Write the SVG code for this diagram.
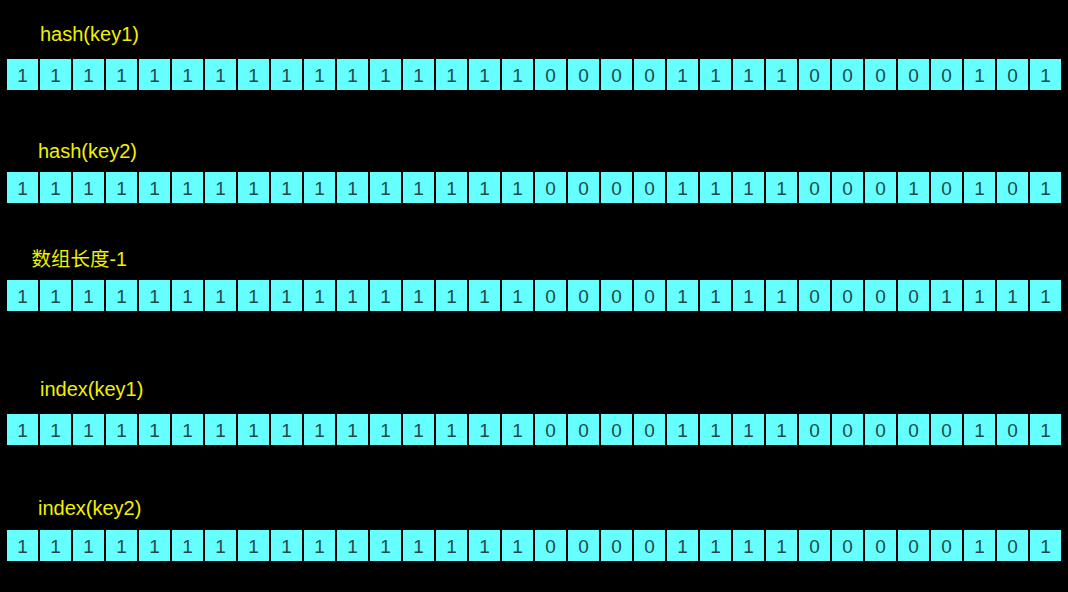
<svg xmlns="http://www.w3.org/2000/svg" width="1068" height="592" viewBox="0 0 1068 592">
<style>
.bg{fill:#000}
.cell{fill:#66ffff}
.d{font-family:"Liberation Sans",Arial,sans-serif;font-size:19px;fill:#1f4a4a;text-anchor:middle}
.lbl{font-family:"Liberation Sans",Arial,"Noto Sans CJK SC",sans-serif;font-size:20px;fill:#f0f000}
.cjk{font-size:19.5px}
</style>
<rect class="bg" x="0" y="0" width="1068" height="592"/>
<g id="labels">
<text class="lbl" x="40" y="41">hash(key1)</text>
<text class="lbl" x="38" y="157.5">hash(key2)</text>
<text class="lbl cjk" x="31.5" y="266">数组长度-1</text>
<text class="lbl" x="40" y="396">index(key1)</text>
<text class="lbl" x="38" y="515">index(key2)</text>
</g>
<g id="connectors"></g>
<g id="row-hash-key1" transform="translate(0,59)">
<rect class="cell" x="7" y="0" width="31" height="31"/><text class="d" x="22.5" y="22.5">1</text>
<rect class="cell" x="40" y="0" width="31" height="31"/><text class="d" x="55.5" y="22.5">1</text>
<rect class="cell" x="73" y="0" width="31" height="31"/><text class="d" x="88.5" y="22.5">1</text>
<rect class="cell" x="106" y="0" width="31" height="31"/><text class="d" x="121.5" y="22.5">1</text>
<rect class="cell" x="139" y="0" width="31" height="31"/><text class="d" x="154.5" y="22.5">1</text>
<rect class="cell" x="172" y="0" width="31" height="31"/><text class="d" x="187.5" y="22.5">1</text>
<rect class="cell" x="205" y="0" width="31" height="31"/><text class="d" x="220.5" y="22.5">1</text>
<rect class="cell" x="238" y="0" width="31" height="31"/><text class="d" x="253.5" y="22.5">1</text>
<rect class="cell" x="271" y="0" width="31" height="31"/><text class="d" x="286.5" y="22.5">1</text>
<rect class="cell" x="304" y="0" width="31" height="31"/><text class="d" x="319.5" y="22.5">1</text>
<rect class="cell" x="337" y="0" width="31" height="31"/><text class="d" x="352.5" y="22.5">1</text>
<rect class="cell" x="370" y="0" width="31" height="31"/><text class="d" x="385.5" y="22.5">1</text>
<rect class="cell" x="403" y="0" width="31" height="31"/><text class="d" x="418.5" y="22.5">1</text>
<rect class="cell" x="436" y="0" width="31" height="31"/><text class="d" x="451.5" y="22.5">1</text>
<rect class="cell" x="469" y="0" width="31" height="31"/><text class="d" x="484.5" y="22.5">1</text>
<rect class="cell" x="502" y="0" width="31" height="31"/><text class="d" x="517.5" y="22.5">1</text>
<rect class="cell" x="535" y="0" width="31" height="31"/><text class="d" x="550.5" y="22.5">0</text>
<rect class="cell" x="568" y="0" width="31" height="31"/><text class="d" x="583.5" y="22.5">0</text>
<rect class="cell" x="601" y="0" width="31" height="31"/><text class="d" x="616.5" y="22.5">0</text>
<rect class="cell" x="634" y="0" width="31" height="31"/><text class="d" x="649.5" y="22.5">0</text>
<rect class="cell" x="667" y="0" width="31" height="31"/><text class="d" x="682.5" y="22.5">1</text>
<rect class="cell" x="700" y="0" width="31" height="31"/><text class="d" x="715.5" y="22.5">1</text>
<rect class="cell" x="733" y="0" width="31" height="31"/><text class="d" x="748.5" y="22.5">1</text>
<rect class="cell" x="766" y="0" width="31" height="31"/><text class="d" x="781.5" y="22.5">1</text>
<rect class="cell" x="799" y="0" width="31" height="31"/><text class="d" x="814.5" y="22.5">0</text>
<rect class="cell" x="832" y="0" width="31" height="31"/><text class="d" x="847.5" y="22.5">0</text>
<rect class="cell" x="865" y="0" width="31" height="31"/><text class="d" x="880.5" y="22.5">0</text>
<rect class="cell" x="898" y="0" width="31" height="31"/><text class="d" x="913.5" y="22.5">0</text>
<rect class="cell" x="931" y="0" width="31" height="31"/><text class="d" x="946.5" y="22.5">0</text>
<rect class="cell" x="964" y="0" width="31" height="31"/><text class="d" x="979.5" y="22.5">1</text>
<rect class="cell" x="997" y="0" width="31" height="31"/><text class="d" x="1012.5" y="22.5">0</text>
<rect class="cell" x="1030" y="0" width="31" height="31"/><text class="d" x="1045.5" y="22.5">1</text>
</g>
<g id="row-hash-key2" transform="translate(0,172)">
<rect class="cell" x="7" y="0" width="31" height="31"/><text class="d" x="22.5" y="22.5">1</text>
<rect class="cell" x="40" y="0" width="31" height="31"/><text class="d" x="55.5" y="22.5">1</text>
<rect class="cell" x="73" y="0" width="31" height="31"/><text class="d" x="88.5" y="22.5">1</text>
<rect class="cell" x="106" y="0" width="31" height="31"/><text class="d" x="121.5" y="22.5">1</text>
<rect class="cell" x="139" y="0" width="31" height="31"/><text class="d" x="154.5" y="22.5">1</text>
<rect class="cell" x="172" y="0" width="31" height="31"/><text class="d" x="187.5" y="22.5">1</text>
<rect class="cell" x="205" y="0" width="31" height="31"/><text class="d" x="220.5" y="22.5">1</text>
<rect class="cell" x="238" y="0" width="31" height="31"/><text class="d" x="253.5" y="22.5">1</text>
<rect class="cell" x="271" y="0" width="31" height="31"/><text class="d" x="286.5" y="22.5">1</text>
<rect class="cell" x="304" y="0" width="31" height="31"/><text class="d" x="319.5" y="22.5">1</text>
<rect class="cell" x="337" y="0" width="31" height="31"/><text class="d" x="352.5" y="22.5">1</text>
<rect class="cell" x="370" y="0" width="31" height="31"/><text class="d" x="385.5" y="22.5">1</text>
<rect class="cell" x="403" y="0" width="31" height="31"/><text class="d" x="418.5" y="22.5">1</text>
<rect class="cell" x="436" y="0" width="31" height="31"/><text class="d" x="451.5" y="22.5">1</text>
<rect class="cell" x="469" y="0" width="31" height="31"/><text class="d" x="484.5" y="22.5">1</text>
<rect class="cell" x="502" y="0" width="31" height="31"/><text class="d" x="517.5" y="22.5">1</text>
<rect class="cell" x="535" y="0" width="31" height="31"/><text class="d" x="550.5" y="22.5">0</text>
<rect class="cell" x="568" y="0" width="31" height="31"/><text class="d" x="583.5" y="22.5">0</text>
<rect class="cell" x="601" y="0" width="31" height="31"/><text class="d" x="616.5" y="22.5">0</text>
<rect class="cell" x="634" y="0" width="31" height="31"/><text class="d" x="649.5" y="22.5">0</text>
<rect class="cell" x="667" y="0" width="31" height="31"/><text class="d" x="682.5" y="22.5">1</text>
<rect class="cell" x="700" y="0" width="31" height="31"/><text class="d" x="715.5" y="22.5">1</text>
<rect class="cell" x="733" y="0" width="31" height="31"/><text class="d" x="748.5" y="22.5">1</text>
<rect class="cell" x="766" y="0" width="31" height="31"/><text class="d" x="781.5" y="22.5">1</text>
<rect class="cell" x="799" y="0" width="31" height="31"/><text class="d" x="814.5" y="22.5">0</text>
<rect class="cell" x="832" y="0" width="31" height="31"/><text class="d" x="847.5" y="22.5">0</text>
<rect class="cell" x="865" y="0" width="31" height="31"/><text class="d" x="880.5" y="22.5">0</text>
<rect class="cell" x="898" y="0" width="31" height="31"/><text class="d" x="913.5" y="22.5">1</text>
<rect class="cell" x="931" y="0" width="31" height="31"/><text class="d" x="946.5" y="22.5">0</text>
<rect class="cell" x="964" y="0" width="31" height="31"/><text class="d" x="979.5" y="22.5">1</text>
<rect class="cell" x="997" y="0" width="31" height="31"/><text class="d" x="1012.5" y="22.5">0</text>
<rect class="cell" x="1030" y="0" width="31" height="31"/><text class="d" x="1045.5" y="22.5">1</text>
</g>
<g id="row-length-minus-1" transform="translate(0,280)">
<rect class="cell" x="7" y="0" width="31" height="31"/><text class="d" x="22.5" y="22.5">1</text>
<rect class="cell" x="40" y="0" width="31" height="31"/><text class="d" x="55.5" y="22.5">1</text>
<rect class="cell" x="73" y="0" width="31" height="31"/><text class="d" x="88.5" y="22.5">1</text>
<rect class="cell" x="106" y="0" width="31" height="31"/><text class="d" x="121.5" y="22.5">1</text>
<rect class="cell" x="139" y="0" width="31" height="31"/><text class="d" x="154.5" y="22.5">1</text>
<rect class="cell" x="172" y="0" width="31" height="31"/><text class="d" x="187.5" y="22.5">1</text>
<rect class="cell" x="205" y="0" width="31" height="31"/><text class="d" x="220.5" y="22.5">1</text>
<rect class="cell" x="238" y="0" width="31" height="31"/><text class="d" x="253.5" y="22.5">1</text>
<rect class="cell" x="271" y="0" width="31" height="31"/><text class="d" x="286.5" y="22.5">1</text>
<rect class="cell" x="304" y="0" width="31" height="31"/><text class="d" x="319.5" y="22.5">1</text>
<rect class="cell" x="337" y="0" width="31" height="31"/><text class="d" x="352.5" y="22.5">1</text>
<rect class="cell" x="370" y="0" width="31" height="31"/><text class="d" x="385.5" y="22.5">1</text>
<rect class="cell" x="403" y="0" width="31" height="31"/><text class="d" x="418.5" y="22.5">1</text>
<rect class="cell" x="436" y="0" width="31" height="31"/><text class="d" x="451.5" y="22.5">1</text>
<rect class="cell" x="469" y="0" width="31" height="31"/><text class="d" x="484.5" y="22.5">1</text>
<rect class="cell" x="502" y="0" width="31" height="31"/><text class="d" x="517.5" y="22.5">1</text>
<rect class="cell" x="535" y="0" width="31" height="31"/><text class="d" x="550.5" y="22.5">0</text>
<rect class="cell" x="568" y="0" width="31" height="31"/><text class="d" x="583.5" y="22.5">0</text>
<rect class="cell" x="601" y="0" width="31" height="31"/><text class="d" x="616.5" y="22.5">0</text>
<rect class="cell" x="634" y="0" width="31" height="31"/><text class="d" x="649.5" y="22.5">0</text>
<rect class="cell" x="667" y="0" width="31" height="31"/><text class="d" x="682.5" y="22.5">1</text>
<rect class="cell" x="700" y="0" width="31" height="31"/><text class="d" x="715.5" y="22.5">1</text>
<rect class="cell" x="733" y="0" width="31" height="31"/><text class="d" x="748.5" y="22.5">1</text>
<rect class="cell" x="766" y="0" width="31" height="31"/><text class="d" x="781.5" y="22.5">1</text>
<rect class="cell" x="799" y="0" width="31" height="31"/><text class="d" x="814.5" y="22.5">0</text>
<rect class="cell" x="832" y="0" width="31" height="31"/><text class="d" x="847.5" y="22.5">0</text>
<rect class="cell" x="865" y="0" width="31" height="31"/><text class="d" x="880.5" y="22.5">0</text>
<rect class="cell" x="898" y="0" width="31" height="31"/><text class="d" x="913.5" y="22.5">0</text>
<rect class="cell" x="931" y="0" width="31" height="31"/><text class="d" x="946.5" y="22.5">1</text>
<rect class="cell" x="964" y="0" width="31" height="31"/><text class="d" x="979.5" y="22.5">1</text>
<rect class="cell" x="997" y="0" width="31" height="31"/><text class="d" x="1012.5" y="22.5">1</text>
<rect class="cell" x="1030" y="0" width="31" height="31"/><text class="d" x="1045.5" y="22.5">1</text>
</g>
<g id="row-index-key1" transform="translate(0,414)">
<rect class="cell" x="7" y="0" width="31" height="31"/><text class="d" x="22.5" y="22.5">1</text>
<rect class="cell" x="40" y="0" width="31" height="31"/><text class="d" x="55.5" y="22.5">1</text>
<rect class="cell" x="73" y="0" width="31" height="31"/><text class="d" x="88.5" y="22.5">1</text>
<rect class="cell" x="106" y="0" width="31" height="31"/><text class="d" x="121.5" y="22.5">1</text>
<rect class="cell" x="139" y="0" width="31" height="31"/><text class="d" x="154.5" y="22.5">1</text>
<rect class="cell" x="172" y="0" width="31" height="31"/><text class="d" x="187.5" y="22.5">1</text>
<rect class="cell" x="205" y="0" width="31" height="31"/><text class="d" x="220.5" y="22.5">1</text>
<rect class="cell" x="238" y="0" width="31" height="31"/><text class="d" x="253.5" y="22.5">1</text>
<rect class="cell" x="271" y="0" width="31" height="31"/><text class="d" x="286.5" y="22.5">1</text>
<rect class="cell" x="304" y="0" width="31" height="31"/><text class="d" x="319.5" y="22.5">1</text>
<rect class="cell" x="337" y="0" width="31" height="31"/><text class="d" x="352.5" y="22.5">1</text>
<rect class="cell" x="370" y="0" width="31" height="31"/><text class="d" x="385.5" y="22.5">1</text>
<rect class="cell" x="403" y="0" width="31" height="31"/><text class="d" x="418.5" y="22.5">1</text>
<rect class="cell" x="436" y="0" width="31" height="31"/><text class="d" x="451.5" y="22.5">1</text>
<rect class="cell" x="469" y="0" width="31" height="31"/><text class="d" x="484.5" y="22.5">1</text>
<rect class="cell" x="502" y="0" width="31" height="31"/><text class="d" x="517.5" y="22.5">1</text>
<rect class="cell" x="535" y="0" width="31" height="31"/><text class="d" x="550.5" y="22.5">0</text>
<rect class="cell" x="568" y="0" width="31" height="31"/><text class="d" x="583.5" y="22.5">0</text>
<rect class="cell" x="601" y="0" width="31" height="31"/><text class="d" x="616.5" y="22.5">0</text>
<rect class="cell" x="634" y="0" width="31" height="31"/><text class="d" x="649.5" y="22.5">0</text>
<rect class="cell" x="667" y="0" width="31" height="31"/><text class="d" x="682.5" y="22.5">1</text>
<rect class="cell" x="700" y="0" width="31" height="31"/><text class="d" x="715.5" y="22.5">1</text>
<rect class="cell" x="733" y="0" width="31" height="31"/><text class="d" x="748.5" y="22.5">1</text>
<rect class="cell" x="766" y="0" width="31" height="31"/><text class="d" x="781.5" y="22.5">1</text>
<rect class="cell" x="799" y="0" width="31" height="31"/><text class="d" x="814.5" y="22.5">0</text>
<rect class="cell" x="832" y="0" width="31" height="31"/><text class="d" x="847.5" y="22.5">0</text>
<rect class="cell" x="865" y="0" width="31" height="31"/><text class="d" x="880.5" y="22.5">0</text>
<rect class="cell" x="898" y="0" width="31" height="31"/><text class="d" x="913.5" y="22.5">0</text>
<rect class="cell" x="931" y="0" width="31" height="31"/><text class="d" x="946.5" y="22.5">0</text>
<rect class="cell" x="964" y="0" width="31" height="31"/><text class="d" x="979.5" y="22.5">1</text>
<rect class="cell" x="997" y="0" width="31" height="31"/><text class="d" x="1012.5" y="22.5">0</text>
<rect class="cell" x="1030" y="0" width="31" height="31"/><text class="d" x="1045.5" y="22.5">1</text>
</g>
<g id="row-index-key2" transform="translate(0,530)">
<rect class="cell" x="7" y="0" width="31" height="31"/><text class="d" x="22.5" y="22.5">1</text>
<rect class="cell" x="40" y="0" width="31" height="31"/><text class="d" x="55.5" y="22.5">1</text>
<rect class="cell" x="73" y="0" width="31" height="31"/><text class="d" x="88.5" y="22.5">1</text>
<rect class="cell" x="106" y="0" width="31" height="31"/><text class="d" x="121.5" y="22.5">1</text>
<rect class="cell" x="139" y="0" width="31" height="31"/><text class="d" x="154.5" y="22.5">1</text>
<rect class="cell" x="172" y="0" width="31" height="31"/><text class="d" x="187.5" y="22.5">1</text>
<rect class="cell" x="205" y="0" width="31" height="31"/><text class="d" x="220.5" y="22.5">1</text>
<rect class="cell" x="238" y="0" width="31" height="31"/><text class="d" x="253.5" y="22.5">1</text>
<rect class="cell" x="271" y="0" width="31" height="31"/><text class="d" x="286.5" y="22.5">1</text>
<rect class="cell" x="304" y="0" width="31" height="31"/><text class="d" x="319.5" y="22.5">1</text>
<rect class="cell" x="337" y="0" width="31" height="31"/><text class="d" x="352.5" y="22.5">1</text>
<rect class="cell" x="370" y="0" width="31" height="31"/><text class="d" x="385.5" y="22.5">1</text>
<rect class="cell" x="403" y="0" width="31" height="31"/><text class="d" x="418.5" y="22.5">1</text>
<rect class="cell" x="436" y="0" width="31" height="31"/><text class="d" x="451.5" y="22.5">1</text>
<rect class="cell" x="469" y="0" width="31" height="31"/><text class="d" x="484.5" y="22.5">1</text>
<rect class="cell" x="502" y="0" width="31" height="31"/><text class="d" x="517.5" y="22.5">1</text>
<rect class="cell" x="535" y="0" width="31" height="31"/><text class="d" x="550.5" y="22.5">0</text>
<rect class="cell" x="568" y="0" width="31" height="31"/><text class="d" x="583.5" y="22.5">0</text>
<rect class="cell" x="601" y="0" width="31" height="31"/><text class="d" x="616.5" y="22.5">0</text>
<rect class="cell" x="634" y="0" width="31" height="31"/><text class="d" x="649.5" y="22.5">0</text>
<rect class="cell" x="667" y="0" width="31" height="31"/><text class="d" x="682.5" y="22.5">1</text>
<rect class="cell" x="700" y="0" width="31" height="31"/><text class="d" x="715.5" y="22.5">1</text>
<rect class="cell" x="733" y="0" width="31" height="31"/><text class="d" x="748.5" y="22.5">1</text>
<rect class="cell" x="766" y="0" width="31" height="31"/><text class="d" x="781.5" y="22.5">1</text>
<rect class="cell" x="799" y="0" width="31" height="31"/><text class="d" x="814.5" y="22.5">0</text>
<rect class="cell" x="832" y="0" width="31" height="31"/><text class="d" x="847.5" y="22.5">0</text>
<rect class="cell" x="865" y="0" width="31" height="31"/><text class="d" x="880.5" y="22.5">0</text>
<rect class="cell" x="898" y="0" width="31" height="31"/><text class="d" x="913.5" y="22.5">0</text>
<rect class="cell" x="931" y="0" width="31" height="31"/><text class="d" x="946.5" y="22.5">0</text>
<rect class="cell" x="964" y="0" width="31" height="31"/><text class="d" x="979.5" y="22.5">1</text>
<rect class="cell" x="997" y="0" width="31" height="31"/><text class="d" x="1012.5" y="22.5">0</text>
<rect class="cell" x="1030" y="0" width="31" height="31"/><text class="d" x="1045.5" y="22.5">1</text>
</g>
</svg>
